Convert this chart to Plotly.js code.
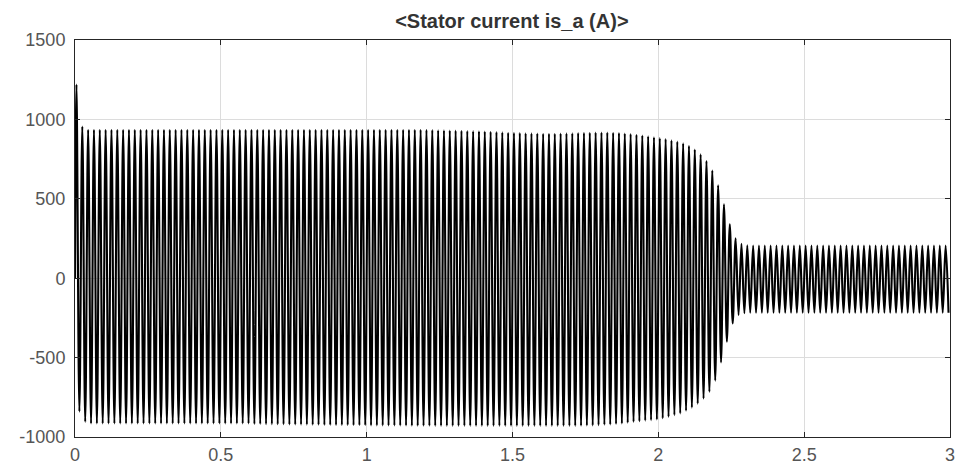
<!DOCTYPE html>
<html>
<head>
<meta charset="utf-8">
<script src="https://cdn.plot.ly/plotly-3.0.1.min.js"></script>
<style>html,body{margin:0;padding:0;background:#fff;}#chart{width:955px;height:465px;}</style>
</head>
<body>
<div id="chart"></div>
<script>
// Positive peak of each 50 Hz cycle (A)
const positivePeaks = [
  1220, 955,
  935,935,935,935,935,935,935,935,935,935,935,935,935,935,935,935,935,935,935,935,
  935,935,935,935,935,935,935,935,935,935,935,935,935,935,935,935,935,935,935,935,
  935,935,935,935,935,935,935,935,935,935,935,935,935,935,935,935,935,935,
  934,933,932,931,930,929,928,927,926,925,
  924,922,920,918,916,915,914,913,912,911,
  910,910,910,911,912,913,914,915,916,917,
  917,917,916,914,911,908,
  903,899,894,888,
  882,876,868,860,849,833,810,780,738,678,585,465,340,252,216,207,
  205,205,205,205,205,205,205,205,205,205,205,205,205,205,205,205,205,
  205,205,205,205,205,205,205,205,205,205,205,205,205,205,205,205,205
];
// Negative peak of each cycle (A)
const negativePeaks = [
  -840, -905,
  -915,-915,-915,-915,-915,-915,-915,-915,-915,-915,-915,-915,-915,-915,
  -915,-915,-915,-915,-915,-915,-915,-915,-915,-915,-915,-915,-915,-915,
  -918,-918,-919,-919,-920,-920,-921,-921,-922,-922,-923,-923,-924,-924,-925,-925,-925,-926,-926,-926,
  -927,-927,-927,-928,-928,-928,-928,-929,-929,-929,-929,-930,-930,-930,-930,-930,-930,-930,-930,-930,
  -930,-930,-930,-930,-930,-930,-930,-930,-930,-930,-930,-930,-930,-930,-930,
  -930,-929,-928,-927,-925,-923,-921,-918,-915,-910,-905,
  -901,-897,-894,-890,
  -882,-873,-862,-851,-835,-815,-790,-758,-715,-645,-530,-400,-285,-232,-221,
  -218,-218,-218,-218,-218,-218,-218,-218,-218,-218,-218,-218,-218,-218,-218,-218,-218,-218,
  -218,-218,-218,-218,-218,-218,-218,-218,-218,-218,-218,-218,-218,-218,-218,-218,-218
];
const cyclePeriod = 0.02;      // s, 50 Hz supply
const firstPeakTime = 0.005;   // s
const xTickVals = [0, 0.5, 1, 1.5, 2, 2.5, 3];
const xTickText = ['0', '0.5', '1', '1.5', '2', '2.5', '3'];
const yTickVals = [-1000, -500, 0, 500, 1000, 1500];
const yTickText = ['-1000', '-500', '0', '500', '1000', '1500'];
const chartTitle = '&lt;Stator current is_a (A)&gt;';

// Alternate positive and negative peaks along the time axis
const t = [0], i = [0];
for (let k = 0; k < positivePeaks.length; k++) {
  t.push(firstPeakTime + k * cyclePeriod); i.push(positivePeaks[k]);
  t.push(firstPeakTime + (k + 0.5) * cyclePeriod); i.push(negativePeaks[k]);
}

const axisCommon = {
  showgrid: true, gridcolor: '#dcdcdc', gridwidth: 1,
  zeroline: false, showline: true, linecolor: '#262626', linewidth: 1,
  mirror: 'ticks', ticks: 'inside', ticklen: 5, tickcolor: '#262626',
  tickfont: {family: 'Liberation Sans, Arial, sans-serif', size: 18, color: '#555555'},
  tickmode: 'array', ticklabeloverflow: 'allow'
};

Plotly.newPlot('chart', [{
  x: t, y: i, type: 'scatter', mode: 'lines',
  line: {color: '#000000', width: 2.1, shape: 'spline', smoothing: 1},
  hoverinfo: 'skip'
}], {
  width: 955, height: 465,
  margin: {l: 75, r: 5, t: 40, b: 28},
  paper_bgcolor: '#ffffff', plot_bgcolor: '#ffffff',
  showlegend: false,
  title: {text: chartTitle, x: 0.536, xanchor: 'center', y: 0.955, yanchor: 'middle', yref: 'container',
    font: {family: 'Liberation Sans, Arial, sans-serif', size: 20, color: '#333333', weight: 'bold'}},
  xaxis: Object.assign({}, axisCommon, {range: [0, 3], tickvals: xTickVals, ticktext: xTickText, ticklabelstandoff: 1}),
  yaxis: Object.assign({}, axisCommon, {range: [-1000, 1500], tickvals: yTickVals, ticktext: yTickText, ticklabelstandoff: 5})
}, {displayModeBar: false, staticPlot: true});
</script>
</body>
</html>
